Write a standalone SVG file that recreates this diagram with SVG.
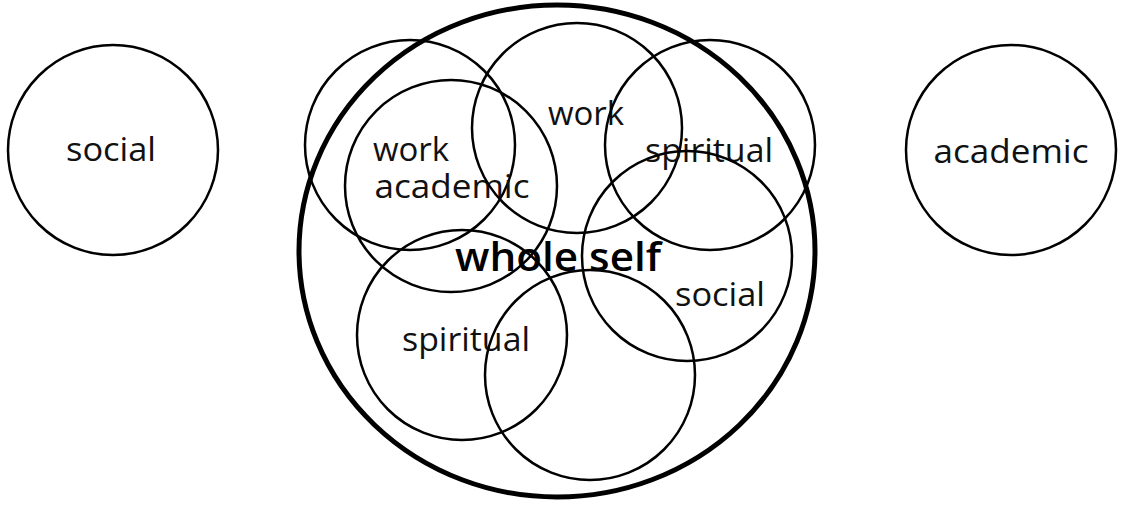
<svg xmlns="http://www.w3.org/2000/svg" width="1127" height="505" viewBox="0 0 1127 505">
<style>
.c{fill:none;stroke:#000;stroke-width:2.5}
.big{fill:none;stroke:#000;stroke-width:5}
.t{font-family:"Open Sans","Noto Sans",sans-serif;font-size:33px;fill:#111;text-anchor:middle}
.w{font-family:"Open Sans","Noto Sans",sans-serif;font-size:39px;font-weight:600;fill:#000;text-anchor:middle}
</style>
<rect width="1127" height="505" fill="#fff"/>
<g id="social-left"><circle class="c" cx="113" cy="150" r="105"/><text class="t" x="111" y="161" textLength="90" lengthAdjust="spacingAndGlyphs">social</text></g>
<g id="academic-right"><circle class="c" cx="1011" cy="150" r="105"/><text class="t" x="1011" y="163" textLength="155" lengthAdjust="spacingAndGlyphs">academic</text></g>
<g id="whole-self"><ellipse class="big" cx="557" cy="251" rx="258" ry="246"/></g>
<g id="work-1"><circle class="c" cx="410" cy="145" r="105"/><text class="t" x="411" y="161">work</text></g>
<g id="academic-1"><circle class="c" cx="451" cy="186" r="106"/><text class="t" x="452" y="198" textLength="155" lengthAdjust="spacingAndGlyphs">academic</text></g>
<g id="work-2"><circle class="c" cx="577" cy="128" r="105"/><text class="t" x="586" y="125">work</text></g>
<g id="spiritual-1"><circle class="c" cx="710" cy="145" r="105"/><text class="t" x="709" y="162" textLength="128" lengthAdjust="spacingAndGlyphs">spiritual</text></g>
<g id="social-1"><circle class="c" cx="687" cy="256" r="105"/><text class="t" x="720" y="306" textLength="90" lengthAdjust="spacingAndGlyphs">social</text></g>
<g id="spiritual-2"><circle class="c" cx="462" cy="335" r="105"/><text class="t" x="466" y="351" textLength="128" lengthAdjust="spacingAndGlyphs">spiritual</text></g>
<g id="empty"><circle class="c" cx="590" cy="375" r="105"/></g>
<g id="label"><text class="w" x="558" y="271" textLength="206" lengthAdjust="spacingAndGlyphs">whole self</text></g>
</svg>
